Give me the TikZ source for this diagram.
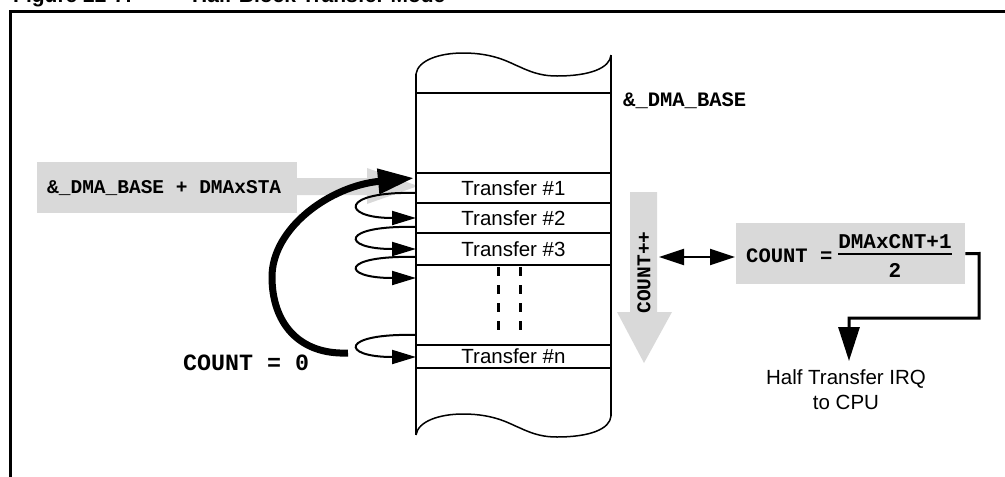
\documentclass[tikz,border=0pt]{standalone}
\usepackage{fontspec}
\setmainfont{Liberation Sans}
\setmonofont{Liberation Mono}
\usetikzlibrary{arrows.meta}
\definecolor{boxgray}{RGB}{217,217,217}
\begin{document}
\begin{tikzpicture}[x=1pt,y=-1pt,
  sans/.style={font=\fontsize{20.5}{25}\selectfont, inner sep=0pt},
  monotxt/.style={font=\ttfamily\bfseries\fontsize{#1}{#1}\selectfont, inner sep=0pt},
  graybox/.style={fill=boxgray, draw=none, inner sep=0pt},
  rowline/.style={line width=2.4pt},
  loopar/.style={line width=2pt, -{Triangle[length=24pt,width=14pt]}},
  dots/.style={line width=3pt, dash pattern=on 9pt off 9pt}
]
\useasboundingbox (0,0) rectangle (1005,477);

% title (clipped at top) and frame
\node[font=\bfseries\fontsize{21}{24}\selectfont, anchor=base west, inner sep=0pt] (figno) at (13,2.5) {Figure 22-7:};
\node[font=\bfseries\fontsize{21}{24}\selectfont, anchor=base west, inner sep=0pt] (figtitle) at (192,2.5) {Half-Block Transfer Mode};
\draw[line width=2.6pt] (10.5,477) -- (10.5,11.5) -- (1005,11.5);

% gray start-address box and its gray arrow
\node[graybox, minimum width=260pt, minimum height=51pt, anchor=north west] (basebox) at (37,162) {};
\node[monotxt=19.5, anchor=west] (basetxt) at (47,188) {\&\_DMA\_BASE + DMAxSTA};
\coordinate (graytip) at (418,186);
\fill[boxgray] (297,178) -- (367,178) -- (367,168) -- (graytip) -- (367,204) -- (367,195) -- (297,195) -- cycle;

% memory column
\fill[white] (416,74) .. controls (418,60) and (440,53) .. (463,53)
  .. controls (495,53) and (510,63) .. (520,67)
  .. controls (535,74) and (545,76) .. (557,76)
  .. controls (590,76) and (610,68) .. (611,55)
  -- (611,416)
  .. controls (610,429) and (590,437) .. (557,437)
  .. controls (545,437) and (535,435) .. (520,428)
  .. controls (510,424) and (495,414) .. (463,414)
  .. controls (440,414) and (418,421) .. (416,435) -- cycle;
\draw[line width=1.5pt] (416,74) .. controls (418,60) and (440,53) .. (463,53)
  .. controls (495,53) and (510,63) .. (520,67)
  .. controls (535,74) and (545,76) .. (557,76)
  .. controls (590,76) and (610,68) .. (611,55);
\draw[line width=1.5pt] (416,435) .. controls (418,421) and (440,414) .. (463,414)
  .. controls (495,414) and (510,424) .. (520,428)
  .. controls (535,435) and (545,437) .. (557,437)
  .. controls (590,437) and (610,429) .. (611,416);
\draw[line width=2.6pt] (416,74) -- (416,435);
\draw[line width=2.6pt] (611,55) -- (611,416);
\foreach \yy in {93,173,203,233,265,345,368} {\draw[rowline] (416,\yy) -- (611,\yy);}
\draw[dots] (498,267) -- (498,331);
\draw[dots] (520,267) -- (520,331);

\node[sans] (t1) at (513.5,188) {Transfer \#1};
\node[sans] (t2) at (513.5,218) {Transfer \#2};
\node[sans] (t3) at (513.5,249) {Transfer \#3};
\node[sans] (tn) at (513.5,356.5) {Transfer \#n};

\node[monotxt=20.5, anchor=west] (dmabase) at (623,101) {\&\_DMA\_BASE};

% small loop arrows
\coordinate (s1) at (416,193); \coordinate (e1) at (416,218);
\coordinate (s2) at (416,227); \coordinate (e2) at (416,249);
\coordinate (s3) at (416,257); \coordinate (e3) at (416,278);
\coordinate (s4) at (416,335); \coordinate (e4) at (416,357);
\draw[loopar] (s1) .. controls (340,191) and (340,218) .. (e1);
\draw[loopar] (s2) .. controls (340,225) and (340,249) .. (e2);
\draw[loopar] (s3) .. controls (340,255) and (340,278) .. (e3);
\draw[loopar] (s4) .. controls (340,333) and (340,357) .. (e4);

% big return arrow
\node[monotxt=23.3, anchor=west] (cnt0) at (183,363) {COUNT = 0};
\coordinate (bigstart) at (348,353);
\coordinate (bigtip) at (414,178);
\draw[line width=7pt, line cap=butt, -{Triangle[length=36pt,width=24pt]}]
  (bigstart) .. controls (298,355) and (272,322) .. (272,277)
  .. controls (272,228) and (330,186) .. (bigtip);

% COUNT++ gray arrow
\fill[boxgray] (630,192) -- (657,192) -- (657,312) -- (672,312) -- (644,363) -- (617,312) -- (630,312) -- cycle;
\node[monotxt=19.5, rotate=90] (cpp) at (644,272.5) {COUNT++};

% formula box
\node[graybox, minimum width=229pt, minimum height=61pt, anchor=north west] (fbox) at (736,223) {};
\node[monotxt=20.5, anchor=west] (feq) at (746,256) {COUNT =};
\node[monotxt=21] (fnum) at (895,242) {DMAxCNT+1};
\node[monotxt=21] (fden) at (895,270) {2};
\draw[line width=2pt] (838,254) -- (952,254);

\coordinate (dblL) at (659,257);
\coordinate (dblR) at (735,257);
\draw[line width=2.2pt, {Triangle[length=25pt,width=16pt]}-{Triangle[length=25pt,width=16pt]}] (dblL) -- (dblR);

% IRQ
\node[sans, align=center, anchor=north] (irq) at (846,369) {Half Transfer IRQ\\to CPU};
\coordinate (irqtip) at (849,361);
\draw[line width=3pt, -{Triangle[length=34pt,width=21pt]}] (fbox.east) -- (979,253.5) -- (979,318) -| (irqtip);
\end{tikzpicture}
\end{document}
